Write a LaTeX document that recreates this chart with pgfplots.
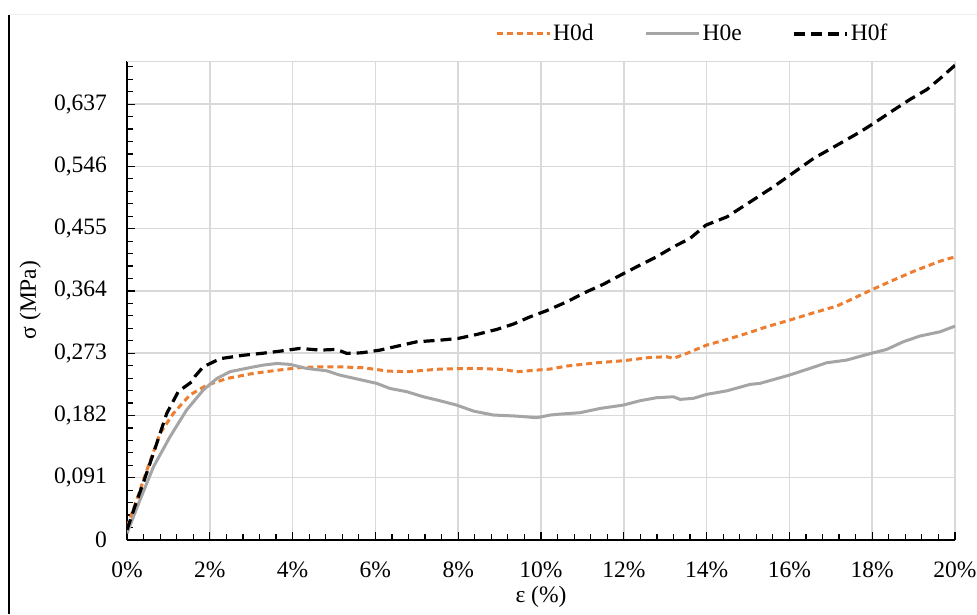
\documentclass[border=0pt]{standalone}
\usepackage{pgfplots}
\pgfplotsset{compat=1.18}
\usepackage{fontspec}
\setmainfont{Liberation Serif}
\definecolor{cOrange}{HTML}{ED7D31}
\definecolor{cGray}{HTML}{A5A5A5}
\definecolor{cGrid}{HTML}{D9D9D9}
\begin{document}
\fontsize{23.5}{28}\selectfont
\begin{tikzpicture}
\useasboundingbox (-127pt,-74pt) rectangle (850pt,540pt);
\draw[black, line width=2pt] (-118pt,525pt) -- (-118pt,-74pt);
\draw[black!7, line width=1pt] (-118pt,525pt) -- (850pt,525pt);
\begin{axis}[
  at={(0pt,0pt)}, anchor=south west,
  scale only axis, width=828pt, height=479pt,
  xmin=0, xmax=20, ymin=0, ymax=0.7,
  axis lines*=left, tick pos=left,
  axis line style={black, line width=1.5pt},
  xtick={0,2,4,6,8,10,12,14,16,18,20},
  xticklabels={0\%,2\%,4\%,6\%,8\%,10\%,12\%,14\%,16\%,18\%,20\%},
  ytick={0,0.091,0.182,0.273,0.364,0.455,0.546,0.637},
  yticklabels={0,{0,091},{0,182},{0,273},{0,364},{0,455},{0,546},{0,637}},
  minor x tick num=4,
  minor ytick={0.0182,0.0364,0.0546,0.0728,0.1092,0.1274,0.1456,0.1638,0.2002,0.2184,0.2366,0.2548,0.2912,0.3094,0.3276,0.3458,0.3822,0.4004,0.4186,0.4368,0.4732,0.4914,0.5096,0.5278,0.5642,0.5824,0.6006,0.6188,0.6552,0.6734,0.6916},
  tick align=inside,
  major tick length=8pt, minor tick length=6pt,
  tick style={black, line width=1.2pt},
  grid=major, major grid style={cGrid, line width=1.5pt},
  xticklabel style={yshift=-14pt},
  yticklabel style={xshift=-12pt},
  xlabel={ε (\%)}, ylabel={σ (MPa)},
  xlabel style={at={(axis description cs:0.5,-0.119)}, anchor=center},
  ylabel style={at={(axis description cs:-0.117,0.501)}, anchor=center},
  legend columns=3,
  legend style={at={(axis description cs:0.4444,1.0564)}, anchor=west, draw=none, fill=none,
    inner sep=0pt, nodes={inner sep=2pt},
    /tikz/every even column/.append style={column sep=49pt}},
  legend image code/.code={\draw[#1] (0pt,0pt) -- (53pt,0pt);},
]
\draw[cGrid, line width=1.5pt] (rel axis cs:0,1) -- (rel axis cs:1,1);
\addplot[cOrange, line width=3pt, dash pattern=on 6pt off 4pt] coordinates {
(0,0.019) (0.23,0.058) (0.48,0.102) (0.80,0.156) (1.12,0.185) (1.52,0.212)
(1.92,0.226) (2.41,0.236) (3.05,0.2435) (3.62,0.248) (4.18,0.252) (4.66,0.253)
(5.14,0.253) (5.71,0.2517) (6.31,0.2468) (6.76,0.2459) (7.56,0.2498) (8.37,0.2508)
(9.09,0.2493) (9.41,0.2459) (9.90,0.2483) (10.22,0.2498) (10.62,0.2542) (11.35,0.259)
(11.99,0.262) (12.63,0.2668) (13.04,0.2678) (13.20,0.2654) (13.52,0.2727) (14.0,0.2848)
(14.49,0.2931) (14.97,0.3019) (15.45,0.3116) (16.01,0.3214) (16.58,0.332) (17.14,0.3418)
(17.46,0.3506) (17.97,0.3652) (18.51,0.3798) (19.07,0.3944) (19.64,0.4075) (20.0,0.4138)
};
\addlegendentry{H0d}
\addplot[cGray, line width=3pt, line join=round] coordinates {
(0,0.0098) (0.31,0.058) (0.64,0.107) (1.04,0.151) (1.44,0.190) (1.84,0.219)
(2.17,0.236) (2.49,0.246) (2.89,0.251) (3.29,0.2556) (3.62,0.258) (3.94,0.2566)
(4.34,0.2507) (4.82,0.2473) (5.14,0.241) (5.39,0.2376) (6.03,0.2289) (6.35,0.2215)
(6.76,0.2167) (7.16,0.2093) (7.56,0.2035) (7.96,0.1972) (8.37,0.1884) (8.85,0.1826)
(9.41,0.1811) (9.90,0.1787) (10.22,0.1826) (10.46,0.184) (10.94,0.186) (11.43,0.1923)
(11.99,0.1972) (12.39,0.2035) (12.79,0.2079) (13.20,0.2093) (13.36,0.2055) (13.68,0.207)
(14.0,0.2128) (14.49,0.218) (15.05,0.2274) (15.29,0.2289) (16.0,0.241) (16.42,0.2493)
(16.9,0.259) (17.38,0.2629) (17.97,0.2727) (18.35,0.2785) (18.75,0.2897) (19.15,0.298)
(19.64,0.3043) (20.0,0.3126)
};
\addlegendentry{H0e}
\addplot[black, line width=3.2pt, dash pattern=on 11pt off 6pt] coordinates {
(0,0.015) (0.19,0.049) (0.39,0.083) (0.64,0.127) (0.96,0.185) (1.24,0.217)
(1.56,0.231) (1.64,0.239) (1.84,0.253) (2.25,0.265) (2.81,0.270) (3.29,0.273)
(3.70,0.276) (4.18,0.280) (4.66,0.2775) (5.06,0.2785) (5.31,0.2727) (5.67,0.2736)
(6.11,0.2775) (6.51,0.283) (7.0,0.2897) (7.56,0.292) (8.0,0.2946) (8.45,0.3004)
(8.93,0.3077) (9.33,0.3155) (9.73,0.326) (10.13,0.335) (10.62,0.348) (11.10,0.3627)
(11.50,0.3735) (11.95,0.388) (12.39,0.4017) (12.79,0.4138) (13.20,0.4284) (13.60,0.4407)
(13.98,0.460) (14.49,0.4722) (15.05,0.494) (15.61,0.516) (16.01,0.533) (16.58,0.5575)
(17.22,0.5794) (17.71,0.5964) (18.03,0.6087) (18.51,0.628) (18.91,0.6437) (19.32,0.6583)
(19.64,0.6744) (20.0,0.6938)
};
\addlegendentry{H0f}
\end{axis}
\end{tikzpicture}
\end{document}
